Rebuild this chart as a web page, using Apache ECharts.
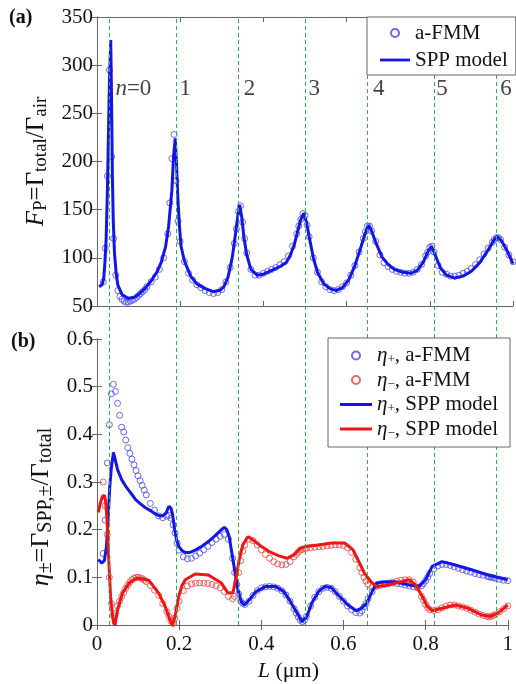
<!DOCTYPE html>
<html><head><meta charset="utf-8">
<script src="https://cdn.jsdelivr.net/npm/echarts@6.0.0/dist/echarts.min.js"></script>
<style>html,body{margin:0;padding:0;background:#fff}#c{width:516px;height:684px}</style>
</head><body><div id="c"></div>
<script>
// ---------- DATA ----------
// resonance positions (green dashed lines) and their labels
const modeL = [0.0346, 0.1885, 0.343, 0.499, 0.654, 0.806, 0.960];
const modeLabels = ['{i|n}=0', '1', '2', '3', '4', '5', '6'];
const modeLabelFp = 275;

// SPP model, panel (a): F_P
const sppFpL = [0.005,0.012,0.016,0.019,0.022,0.025,0.028,0.030,0.033,0.035,
  0.037,0.039,0.042,0.046,0.050,0.060,0.075,0.090,0.100,0.115,
  0.130,0.145,0.155,0.165,0.172,0.180,0.184,0.188,0.191,0.194,
  0.198,0.202,0.210,0.225,0.240,0.260,0.280,0.295,0.305,0.315,
  0.325,0.333,0.338,0.343,0.348,0.353,0.360,0.370,0.385,0.400,
  0.420,0.440,0.455,0.465,0.475,0.485,0.490,0.497,0.503,0.510,
  0.520,0.530,0.545,0.560,0.575,0.590,0.605,0.620,0.635,0.645,
  0.653,0.660,0.670,0.685,0.700,0.715,0.735,0.755,0.770,0.785,
  0.795,0.804,0.812,0.825,0.840,0.860,0.880,0.900,0.920,0.940,
  0.955,0.962,0.972,0.985,1.000];
const sppFp = [70,72,78,95,120,170,240,285,326,265,
  185,140,105,84,72,62,58,59,62,68,
  76,86,96,112,132,170,205,224,200,165,
  134,112,97,81,73,68,65,66,70,80,
  100,125,142,155,142,122,103,88,82,83,
  87,91,95,103,115,132,140,146,138,122,
  100,85,73,68,66,69,77,92,112,126,
  134,128,116,101,93,88,85,84,87,96,
  106,112,104,90,82,79,81,86,95,108,
  119,122,118,108,94];

// a-FMM sample positions (shared by all a-FMM series)
const fmmL = [0.015,0.02,0.025,0.03,0.035,0.04,0.045,0.05,0.055,0.06,
  0.065,0.07,0.075,0.08,0.085,0.09,0.095,0.10,0.105,0.11,
  0.115,0.12,0.13,0.14,0.15,0.16,0.17,0.175,0.18,0.185,
  0.19,0.195,0.20,0.21,0.22,0.23,0.24,0.25,0.26,0.27,
  0.28,0.29,0.30,0.31,0.32,0.33,0.335,0.34,0.345,0.35,
  0.355,0.36,0.37,0.38,0.39,0.40,0.41,0.42,0.43,0.44,
  0.45,0.46,0.47,0.48,0.485,0.49,0.495,0.50,0.505,0.51,
  0.52,0.53,0.54,0.55,0.56,0.57,0.58,0.59,0.60,0.61,
  0.62,0.63,0.64,0.645,0.65,0.655,0.66,0.67,0.68,0.69,
  0.70,0.71,0.72,0.73,0.74,0.75,0.76,0.77,0.78,0.79,
  0.795,0.80,0.805,0.81,0.82,0.83,0.84,0.85,0.86,0.87,
  0.88,0.89,0.90,0.91,0.92,0.93,0.94,0.95,0.955,0.96,
  0.965,0.97,0.98,0.99,1.00];
const fmmFp = [75,110,185,295,205,120,82,66,60,57,
  55,54,54,55,56,57,59,61,63,65,
  67,70,75,80,88,100,125,157,203,228,
  180,138,117,96,84,77,72,69,66,64,
  63,64,67,75,90,115,130,148,154,137,
  120,105,88,82,82,84,86,88,90,93,
  96,102,112,125,133,140,146,144,134,122,
  100,85,75,70,67,66,67,70,74,82,
  92,106,120,127,133,133,128,117,103,95,
  91,88,86,85,84,84,85,88,93,102,
  106,111,112,106,92,85,83,81,81,82,
  84,86,89,93,98,104,110,116,119,121,
  121,119,111,103,96];
const fmmEtaP = [0.15,0.22,0.34,0.42,0.485,0.505,0.49,0.465,0.44,0.415,
  0.405,0.388,0.372,0.36,0.348,0.336,0.324,0.313,0.303,0.293,
  0.283,0.273,0.255,0.241,0.229,0.225,0.228,0.23,0.224,0.21,
  0.193,0.172,0.157,0.143,0.139,0.14,0.145,0.151,0.158,0.165,
  0.173,0.18,0.186,0.19,0.18,0.14,0.11,0.085,0.065,0.05,
  0.045,0.043,0.05,0.062,0.072,0.078,0.08,0.081,0.08,0.077,
  0.072,0.063,0.05,0.034,0.025,0.017,0.01,0.007,0.01,0.018,
  0.04,0.058,0.07,0.077,0.079,0.077,0.07,0.06,0.05,0.04,
  0.032,0.026,0.025,0.03,0.038,0.045,0.055,0.07,0.082,0.086,
  0.087,0.088,0.088,0.087,0.086,0.084,0.082,0.08,0.079,0.082,
  0.087,0.093,0.1,0.108,0.118,0.124,0.127,0.127,0.125,0.122,
  0.119,0.116,0.113,0.111,0.108,0.106,0.104,0.102,0.101,0.1,
  0.099,0.098,0.096,0.094,0.093];
const fmmEtaM = [0.30,0.25,0.19,0.10,0.045,0.02,0.025,0.04,0.05,0.06,
  0.068,0.077,0.084,0.09,0.095,0.098,0.1,0.1,0.099,0.097,
  0.094,0.091,0.083,0.073,0.062,0.045,0.028,0.018,0.008,0.003,
  0.015,0.035,0.05,0.072,0.082,0.086,0.088,0.088,0.088,0.087,
  0.085,0.082,0.078,0.07,0.06,0.055,0.06,0.085,0.11,0.135,
  0.155,0.168,0.18,0.177,0.168,0.158,0.148,0.14,0.133,0.128,
  0.126,0.127,0.133,0.143,0.148,0.153,0.157,0.158,0.16,0.161,
  0.162,0.163,0.164,0.165,0.166,0.167,0.168,0.168,0.167,0.162,
  0.152,0.138,0.12,0.11,0.1,0.092,0.085,0.08,0.081,0.083,
  0.085,0.087,0.09,0.092,0.094,0.095,0.095,0.09,0.078,0.06,
  0.052,0.043,0.036,0.032,0.03,0.032,0.036,0.04,0.042,0.042,
  0.04,0.038,0.035,0.031,0.027,0.023,0.02,0.018,0.017,0.018,
  0.02,0.022,0.028,0.034,0.04];

// SPP model, panel (b): eta+
const sppEtaPL = [0.003,0.012,0.018,0.023,0.027,0.031,0.035,0.040,0.045,0.050,
  0.060,0.070,0.082,0.094,0.106,0.118,0.130,0.142,0.152,0.160,
  0.168,0.175,0.180,0.184,0.189,0.194,0.199,0.207,0.215,0.225,
  0.239,0.255,0.271,0.287,0.303,0.310,0.316,0.322,0.327,0.335,
  0.343,0.351,0.359,0.371,0.387,0.411,0.435,0.455,0.471,0.487,
  0.499,0.511,0.523,0.539,0.555,0.571,0.587,0.611,0.631,0.643,
  0.656,0.668,0.680,0.696,0.728,0.760,0.784,0.800,0.816,0.840,
  0.872,0.912,0.952,1.000];
const sppEtaP = [0.137,0.13,0.135,0.165,0.22,0.29,0.33,0.362,0.345,0.326,
  0.305,0.291,0.277,0.263,0.254,0.246,0.24,0.233,0.229,0.229,
  0.235,0.249,0.245,0.232,0.2,0.178,0.165,0.156,0.152,0.152,
  0.157,0.165,0.175,0.187,0.2,0.205,0.2,0.185,0.158,0.116,
  0.074,0.049,0.042,0.053,0.07,0.081,0.081,0.07,0.049,0.025,
  0.007,0.018,0.046,0.07,0.081,0.078,0.063,0.042,0.03,0.035,
  0.045,0.067,0.088,0.09,0.09,0.084,0.081,0.095,0.123,0.133,
  0.126,0.116,0.105,0.095];
// SPP model, panel (b): eta-
const sppEtaML = [0.003,0.008,0.013,0.018,0.021,0.024,0.027,0.029,0.033,0.037,
  0.040,0.044,0.050,0.062,0.078,0.094,0.102,0.126,0.150,0.166,
  0.178,0.184,0.190,0.199,0.207,0.215,0.239,0.271,0.303,0.319,
  0.331,0.339,0.347,0.355,0.367,0.379,0.395,0.419,0.443,0.463,
  0.479,0.495,0.511,0.539,0.571,0.603,0.623,0.639,0.651,0.668,
  0.680,0.704,0.736,0.760,0.776,0.792,0.804,0.816,0.840,0.872,
  0.904,0.936,0.958,0.976,1.000];
const sppEtaM = [0.236,0.255,0.27,0.272,0.26,0.226,0.17,0.13,0.06,0.025,
  0.005,0.0,0.032,0.067,0.088,0.097,0.098,0.094,0.067,0.039,
  0.01,0.0,0.018,0.06,0.083,0.095,0.107,0.105,0.088,0.067,
  0.068,0.102,0.14,0.168,0.185,0.179,0.168,0.154,0.145,0.14,
  0.147,0.161,0.165,0.168,0.172,0.172,0.158,0.13,0.109,0.09,
  0.081,0.083,0.09,0.095,0.084,0.06,0.039,0.03,0.035,0.042,
  0.035,0.021,0.018,0.025,0.042];

// ---------- CHART ----------
const SERIF = '"Liberation Serif","DejaVu Serif",serif';
const zip = (xs, ys) => xs.map((x, i) => [x, ys[i]]);
const AX = '#666';
const BLUE_L = '#1515e8', RED_L = '#ee1515';
const BLUE_C = '#4f4ff0', RED_C = '#f04a4a';
const LINE_ICON = 'path://M0,0H32V3H0Z';

function mkRich(main, sub, subLH) {
  return {
    n: {fontFamily: SERIF, fontSize: main, color: '#111', lineHeight: main + 3},
    i: {fontFamily: SERIF, fontSize: main, color: '#111', fontStyle: 'italic', lineHeight: main + 3},
    sub: {fontFamily: SERIF, fontSize: sub, color: '#111', verticalAlign: 'bottom', lineHeight: subLH}
  };
}
const nameRichA = mkRich(25, 19, 9);
const nameRichB = mkRich(26, 20, 9);
const xNameRich = {
  n: {fontFamily: SERIF, fontSize: 22, color: '#111'},
  i: {fontFamily: SERIF, fontSize: 22, color: '#111', fontStyle: 'italic'}
};
const legRich = {
  n: {fontFamily: SERIF, fontSize: 21, color: '#111', lineHeight: 22},
  i: {fontFamily: SERIF, fontSize: 21, color: '#111', fontStyle: 'italic', lineHeight: 22},
  sub: {fontFamily: SERIF, fontSize: 13, color: '#111', verticalAlign: 'bottom', lineHeight: 9}
};

function xAx(grid, pos, labels, extra) {
  return Object.assign({
    type: 'value', gridIndex: grid, position: pos, min: 0, max: 1, interval: 0.2,
    axisLine: {show: true, lineStyle: {color: AX, width: 1}},
    axisTick: {show: true, inside: true, length: 5, lineStyle: {color: AX}},
    splitLine: {show: false},
    axisLabel: {show: labels, margin: 9, fontFamily: SERIF, fontSize: 21, color: '#111',
      formatter: v => (v === 0 ? '0' : v === 1 ? '1' : v.toFixed(1))}
  }, extra || {});
}
function yAx(grid, pos, labels, min, max, interval, fmt, extra) {
  return Object.assign({
    type: 'value', gridIndex: grid, position: pos, min: min, max: max, interval: interval,
    axisLine: {show: true, lineStyle: {color: AX, width: 1}},
    axisTick: {show: true, inside: true, length: 5, lineStyle: {color: AX}},
    splitLine: {show: false},
    axisLabel: {show: labels, margin: 4, fontFamily: SERIF, fontSize: 21, color: '#111', formatter: fmt}
  }, extra || {});
}

const option = {
  animation: false,
  backgroundColor: '#fff',
  grid: [
    {left: 97, right: 3, top: 17, height: 289},
    {left: 97, right: 3, top: 339, height: 286},
    {left: 97, right: 3, top: 17, bottom: 59}
  ],
  xAxis: [
    xAx(0, 'bottom', false),
    xAx(0, 'top', false),
    xAx(1, 'bottom', true, {
      name: '{i|L}{n| (μm)}', nameLocation: 'middle', nameGap: 35,
      nameTextStyle: {rich: xNameRich, padding: [0, 28, 0, 0]}
    }),
    xAx(1, 'top', false),
    {type: 'value', gridIndex: 2, min: 0, max: 1, show: false}
  ],
  yAxis: [
    yAx(0, 'left', true, 50, 350, 50, v => String(v), {
      name: '{i|F}{sub|P}{n|=Γ}{sub|total}{n|/Γ}{sub|air}', nameLocation: 'middle', nameRotate: 90, nameGap: 41,
      nameTextStyle: {rich: nameRichA}
    }),
    yAx(0, 'right', false, 50, 350, 50),
    yAx(1, 'left', true, 0, 0.6, 0.1, v => (v === 0 ? '0' : v.toFixed(1)), {
      name: '{i|η}{sub|±}{n|=Γ}{sub|SPP,±}{n|/Γ}{sub|total}', nameLocation: 'middle', nameRotate: 90, nameGap: 39,
      nameTextStyle: {rich: nameRichB, padding: [0, 50, 0, 0]}
    }),
    yAx(1, 'right', false, 0, 0.6, 0.1),
    {type: 'value', gridIndex: 2, min: 0, max: 1, show: false}
  ],
  legend: [
    {
      data: [{name: 'a-FMM'}, {name: 'SPP model', icon: LINE_ICON}], orient: 'vertical', left: 367, top: 17,
      backgroundColor: '#fff', borderColor: AX, borderWidth: 1, borderRadius: 0,
      padding: [5, 8, 4, 13], itemGap: 5, itemWidth: 30, itemHeight: 8,
      textStyle: {fontFamily: SERIF, fontSize: 21, color: '#111', lineHeight: 22}, z: 10
    },
    {
      data: [{name: 'eta+ fmm'}, {name: 'eta- fmm'}, {name: 'eta+ spp', icon: LINE_ICON}, {name: 'eta- spp', icon: LINE_ICON}],
      orient: 'vertical', left: 328, top: 338,
      backgroundColor: '#fff', borderColor: AX, borderWidth: 1, borderRadius: 0,
      padding: [7, 12, 7, 12], itemGap: 3, itemWidth: 32, itemHeight: 8,
      formatter: function (name) {
        return {
          'eta+ fmm': '{i|η}{sub|+}{n|, a-FMM}',
          'eta- fmm': '{i|η}{sub|−}{n|, a-FMM}',
          'eta+ spp': '{i|η}{sub|+}{n|, SPP model}',
          'eta- spp': '{i|η}{sub|−}{n|, SPP model}'
        }[name];
      },
      textStyle: {rich: legRich, fontFamily: SERIF, fontSize: 21, color: '#111'}, z: 10
    }
  ],
  graphic: [
    {type: 'text', left: 9, top: 8, style: {text: '(a)', font: 'bold 20px ' + SERIF, fill: '#111'}},
    {type: 'text', left: 11, top: 332, style: {text: '(b)', font: 'bold 20px ' + SERIF, fill: '#111'}}
  ],
  series: [
    {
      name: 'modes', type: 'line', xAxisIndex: 4, yAxisIndex: 4, data: [[0, 0]],
      symbol: 'none', lineStyle: {opacity: 0}, silent: true, z: 1,
      markLine: {
        silent: true, symbol: ['none', 'none'], label: {show: false},
        lineStyle: {color: '#2fb24c', type: [4, 3], width: 1},
        data: modeL.map(v => ({xAxis: v}))
      }
    },
    {
      name: 'a-FMM', type: 'scatter', xAxisIndex: 0, yAxisIndex: 0, data: zip(fmmL, fmmFp),
      symbol: 'circle', symbolSize: 6, z: 2,
      itemStyle: {color: 'rgba(0,0,0,0)', borderColor: BLUE_C, borderWidth: 1, opacity: 0.85}
    },
    {
      name: 'SPP model', type: 'line', xAxisIndex: 0, yAxisIndex: 0, data: zip(sppFpL, sppFp),
      symbol: 'none', z: 3, lineStyle: {color: BLUE_L, width: 3}, itemStyle: {color: BLUE_L}
    },
    {
      name: 'labels', type: 'scatter', xAxisIndex: 0, yAxisIndex: 0, silent: true, z: 4,
      data: modeL.map((x, i) => ({value: [x, modeLabelFp], label: {formatter: modeLabels[i]}})),
      symbolSize: 0,
      label: {show: true, position: 'right', distance: 4, fontFamily: SERIF, fontSize: 23, color: '#111',
        rich: {i: {fontFamily: SERIF, fontSize: 23, color: '#111', fontStyle: 'italic'}}}
    },
    {
      name: 'eta+ fmm', type: 'scatter', xAxisIndex: 2, yAxisIndex: 2, data: zip(fmmL, fmmEtaP),
      symbol: 'circle', symbolSize: 6, z: 2,
      itemStyle: {color: 'rgba(0,0,0,0)', borderColor: BLUE_C, borderWidth: 1, opacity: 0.85}
    },
    {
      name: 'eta- fmm', type: 'scatter', xAxisIndex: 2, yAxisIndex: 2, data: zip(fmmL, fmmEtaM),
      symbol: 'circle', symbolSize: 6, z: 2,
      itemStyle: {color: 'rgba(0,0,0,0)', borderColor: RED_C, borderWidth: 1, opacity: 0.85}
    },
    {
      name: 'eta+ spp', type: 'line', xAxisIndex: 2, yAxisIndex: 2, data: zip(sppEtaPL, sppEtaP),
      symbol: 'none', z: 3, lineStyle: {color: BLUE_L, width: 3}, itemStyle: {color: BLUE_L}
    },
    {
      name: 'eta- spp', type: 'line', xAxisIndex: 2, yAxisIndex: 2, data: zip(sppEtaML, sppEtaM),
      symbol: 'none', z: 3, lineStyle: {color: RED_L, width: 3}, itemStyle: {color: RED_L}
    }
  ]
};
const chart = echarts.init(document.getElementById('c'), null, {renderer: 'canvas'});
chart.setOption(option);
</script>
</body></html>
